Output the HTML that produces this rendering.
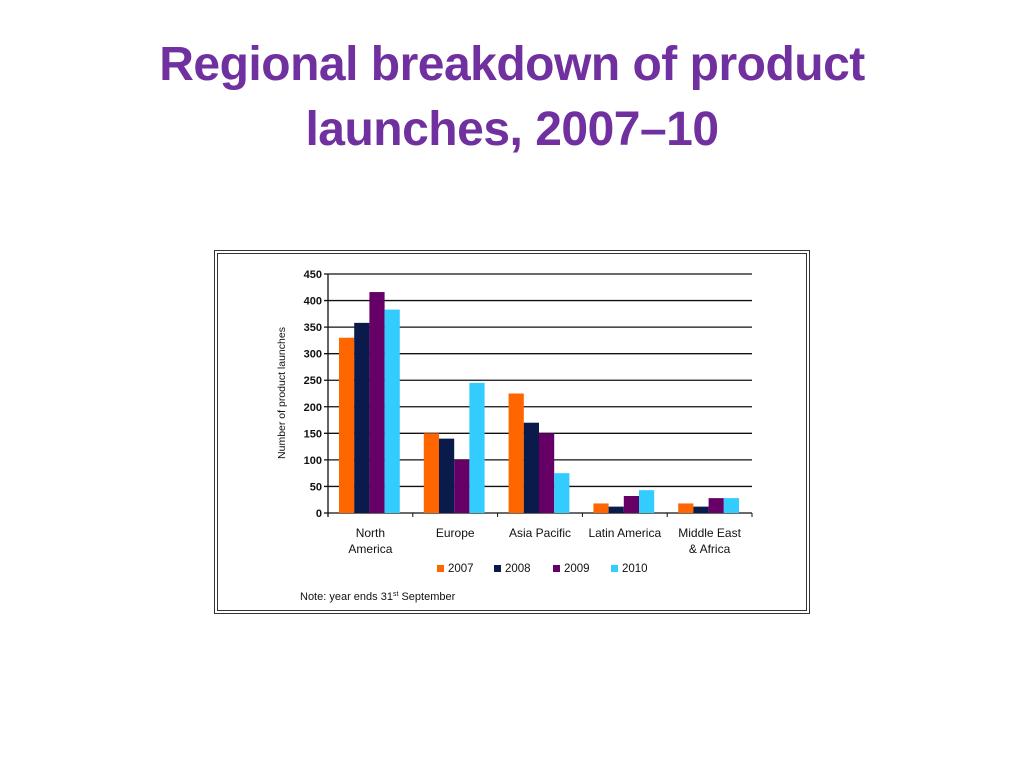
<!DOCTYPE html>
<html><head><meta charset="utf-8"><style>
body{margin:0;width:1024px;height:768px;background:#fff;overflow:hidden;font-family:"Liberation Sans",sans-serif}
#title{position:absolute;left:0;top:32px;width:1024px;text-align:center;color:#7030A0;font-weight:bold;font-size:48px;line-height:65px;margin:0;letter-spacing:-0.5px}
svg{position:absolute;left:0;top:0}
</style></head><body>
<h1 id="title">Regional breakdown of product<br>launches, 2007–10</h1>
<svg id="chart" width="1024" height="768">
<rect x="214.5" y="250.5" width="595" height="363" fill="none" stroke="#333" stroke-width="1"/>
<rect x="217.5" y="253.5" width="589" height="357" fill="none" stroke="#333" stroke-width="1"/>
<g id="grid"></g><g id="bars"></g><g id="axes"></g>
<text transform="translate(285,393) rotate(-90)" text-anchor="middle" font-size="10.5" fill="#111">Number of product launches</text>
<text x="300" y="600" font-size="11" fill="#111">Note: year ends 31<tspan font-size="7" dy="-4">st</tspan><tspan dy="4"> September</tspan></text>
</svg>
<script>
const categories=[["North","America"],["Europe"],["Asia Pacific"],["Latin America"],["Middle East","& Africa"]];
const series=["2007","2008","2009","2010"];
const colors=["#ff6600","#0a1a4a","#660066","#33ccff"];
const v2007=[330,150,225,18,18];
const v2008=[358,140,170,12,12];
const v2009=[416,100,150,32,28];
const v2010=[383,245,75,43,28];
const yTicks=[0,50,100,150,200,250,300,350,400,450];
const values=[v2007,v2008,v2009,v2010];
const NS="http://www.w3.org/2000/svg";
const x0=328,x1=752,y0=513,yTop=274,yMax=450;
const bw=(x1-x0)/categories.length;
const y=v=>y0-(v/yMax)*(y0-yTop);
const xc=i=>x0+bw*i;
function mk(tag,attrs,parent){const e=document.createElementNS(NS,tag);for(const k in attrs)e.setAttribute(k,attrs[k]);parent.appendChild(e);return e;}
const grid=document.getElementById('grid'),bars=document.getElementById('bars'),axes=document.getElementById('axes');
yTicks.forEach(t=>{
  const l=mk('line',{x1:x0-4,x2:x1,y1:y(t),y2:y(t),stroke:'#111','stroke-width':1.3},grid);
  
  
  const tx=mk('text',{x:x0-6,y:y(t)+4,'text-anchor':'end','font-size':11,'font-weight':'bold',fill:'#111'},axes);
  tx.textContent=t;
  
  
});
const barW=15.2;
categories.forEach((c,i)=>{
  values.forEach((arr,s)=>{
    const r=mk('rect',{x:xc(i)+11+s*barW,y:y(arr[i]),width:barW,height:y0-y(arr[i]),fill:colors[s]},bars);
    
    
  });
  const tk=mk('line',{x1:xc(i+1),x2:xc(i+1),y1:y0,y2:y0+4,stroke:'#111'},axes);
  
  
  c.forEach((line,j)=>{
    const t=mk('text',{x:xc(i)+bw/2,y:537+j*16,'text-anchor':'middle','font-size':12,fill:'#111'},axes);
    t.textContent=line;
    
    
  });
});
const ax=mk('line',{x1:x0,x2:x0,y1:yTop,y2:y0+4,stroke:'#111','stroke-width':1.3},axes);


const lx=[437,494,553,611];
series.forEach((s,k)=>{
  const g=mk('g',{},axes);
  
  
  mk('rect',{x:lx[k],y:565,width:7,height:7,fill:colors[k]},g);
  const t=mk('text',{x:lx[k]+11,y:572,'font-size':11.5,fill:'#111'},g);
  t.textContent=s;
});
</script>
</body></html>
